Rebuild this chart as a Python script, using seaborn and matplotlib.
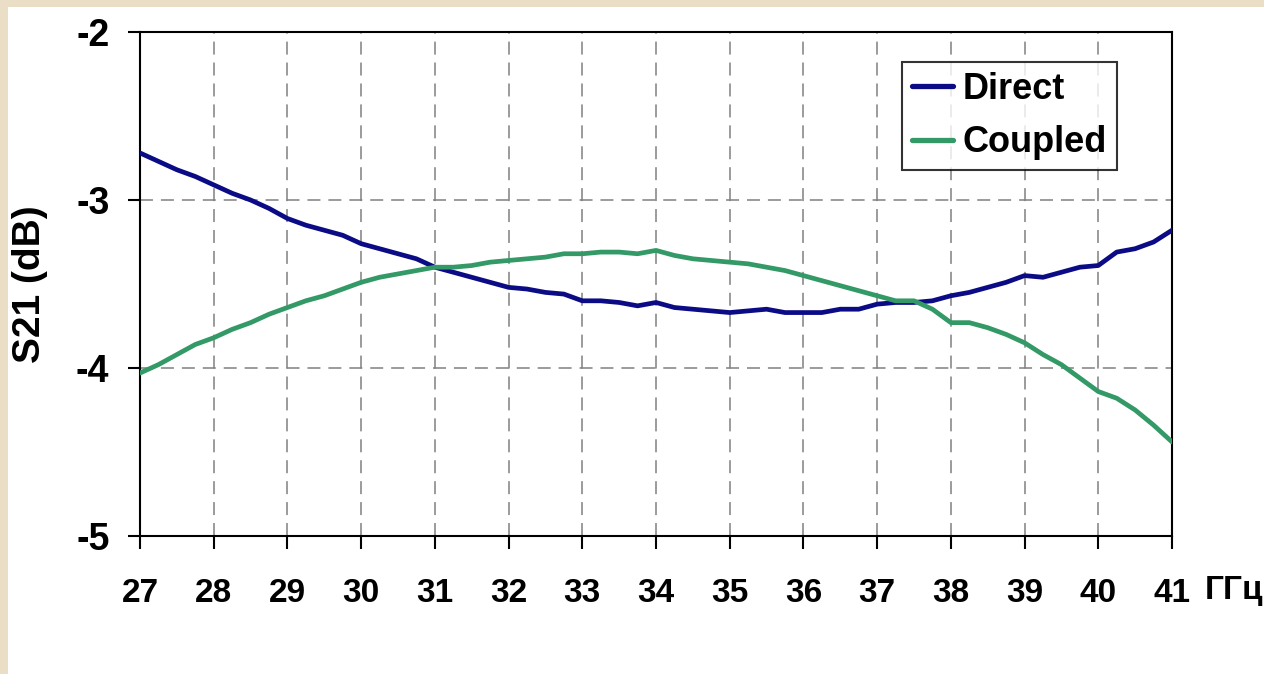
import numpy as np
import pandas as pd
import matplotlib
matplotlib.use("Agg")
import matplotlib.pyplot as plt
import matplotlib.patches as mpatches
import seaborn as sns

# Frequency grid (GHz) and measured transmission for both ports (dB)
freq = [27.00, 27.25, 27.50, 27.75, 28.00, 28.25, 28.50, 28.75, 29.00, 29.25,
        29.50, 29.75, 30.00, 30.25, 30.50, 30.75, 31.00, 31.25, 31.50, 31.75,
        32.00, 32.25, 32.50, 32.75, 33.00, 33.25, 33.50, 33.75, 34.00, 34.25,
        34.50, 34.75, 35.00, 35.25, 35.50, 35.75, 36.00, 36.25, 36.50, 36.75,
        37.00, 37.25, 37.50, 37.75, 38.00, 38.25, 38.50, 38.75, 39.00, 39.25,
        39.50, 39.75, 40.00, 40.25, 40.50, 40.75, 41.00]

direct = [-2.72, -2.77, -2.82, -2.86, -2.91, -2.96, -3.00, -3.05, -3.11, -3.15,
          -3.18, -3.21, -3.26, -3.29, -3.32, -3.35, -3.40, -3.43, -3.46, -3.49,
          -3.52, -3.53, -3.55, -3.56, -3.60, -3.60, -3.61, -3.63, -3.61, -3.64,
          -3.65, -3.66, -3.67, -3.66, -3.65, -3.67, -3.67, -3.67, -3.65, -3.65,
          -3.62, -3.61, -3.61, -3.60, -3.57, -3.55, -3.52, -3.49, -3.45, -3.46,
          -3.43, -3.40, -3.39, -3.31, -3.29, -3.25, -3.18]

coupled = [-4.03, -3.98, -3.92, -3.86, -3.82, -3.77, -3.73, -3.68, -3.64, -3.60,
           -3.57, -3.53, -3.49, -3.46, -3.44, -3.42, -3.40, -3.40, -3.39, -3.37,
           -3.36, -3.35, -3.34, -3.32, -3.32, -3.31, -3.31, -3.32, -3.30, -3.33,
           -3.35, -3.36, -3.37, -3.38, -3.40, -3.42, -3.45, -3.48, -3.51, -3.54,
           -3.57, -3.60, -3.60, -3.65, -3.73, -3.73, -3.76, -3.80, -3.85, -3.92,
           -3.98, -4.06, -4.14, -4.18, -4.25, -4.34, -4.44]

series_names = ["Direct", "Coupled"]
x_ticks = list(range(27, 42))
y_ticks = [-5, -4, -3, -2]
x_unit = "ГГц"
y_label = "S21 (dB)"

df = pd.DataFrame({
    "freq": freq * 2,
    "s21": direct + coupled,
    "series": [series_names[0]] * len(freq) + [series_names[1]] * len(freq),
})

sns.set_theme(style="white")
plt.rcParams["font.family"] = ["Liberation Sans", "DejaVu Sans"]
plt.rcParams["font.weight"] = "bold"
plt.rcParams["axes.labelweight"] = "bold"
plt.rcParams["text.color"] = "black"
plt.rcParams["axes.labelcolor"] = "black"
plt.rcParams["xtick.color"] = "black"
plt.rcParams["ytick.color"] = "black"

fig = plt.figure(figsize=(12.64, 6.74), dpi=100)
fig.patch.set_facecolor("white")

# thin beige frame along the top and left edges
frame_col = "#eadfc6"
fig.add_artist(mpatches.Rectangle((0, 1 - 7 / 674), 1, 7 / 674, transform=fig.transFigure,
                                  facecolor=frame_col, edgecolor="none", zorder=0))
fig.add_artist(mpatches.Rectangle((0, 0), 8 / 1264, 1, transform=fig.transFigure,
                                  facecolor=frame_col, edgecolor="none", zorder=0))

ax = fig.add_axes([140 / 1264, 1 - 536 / 674, (1172 - 140) / 1264, (536 - 32) / 674])

palette = {"Direct": "#0b0b86", "Coupled": "#339966"}
sns.lineplot(data=df, x="freq", y="s21", hue="series", palette=palette,
             linewidth=3.4, ax=ax, legend=True, zorder=3)

ax.set_xlim(27, 41)
ax.set_ylim(-5, -2)
ax.set_xticks(x_ticks)
ax.set_yticks(y_ticks)
ax.set_xticklabels([str(t) for t in x_ticks], fontsize=24, fontweight="bold", color="black")
ax.set_yticklabels([str(t) for t in y_ticks], fontsize=27, fontweight="bold", color="black")
ax.set_xlabel("")
ax.set_ylabel(y_label, fontsize=28, fontweight="bold", labelpad=20, color="black")

ax.grid(True, which="major", color="#808080", linewidth=1.1,
        linestyle=(0, (8.5, 5.2)))
ax.set_axisbelow(True)

for sp in ax.spines.values():
    sp.set_visible(True)
    sp.set_color("black")
    sp.set_linewidth(1.5)

ax.tick_params(axis="x", direction="out", length=9, width=1.5, color="black",
               pad=21, bottom=True)
ax.tick_params(axis="y", direction="out", length=9, width=1.5, color="black",
               pad=13, left=True)

fig.text(1205 / 1264, 1 - 591 / 674, x_unit, fontsize=24, fontweight="bold",
         ha="left", va="center", color="black")

leg = ax.legend(loc="upper right", bbox_to_anchor=((1117 - 140) / 1032, 1 - (62 - 32) / 504),
                borderaxespad=0, frameon=True, fancybox=False, shadow=False,
                prop={"size": 26, "weight": "bold"}, handlelength=1.15,
                handletextpad=0.25, labelspacing=0.5, borderpad=0.28)
leg.get_frame().set_edgecolor("black")
leg.get_frame().set_linewidth(1.5)
for t in leg.get_texts():
    t.set_color("black")
for h in leg.get_lines():
    h.set_linewidth(3.8)

fig.savefig("out.png", dpi=100)
